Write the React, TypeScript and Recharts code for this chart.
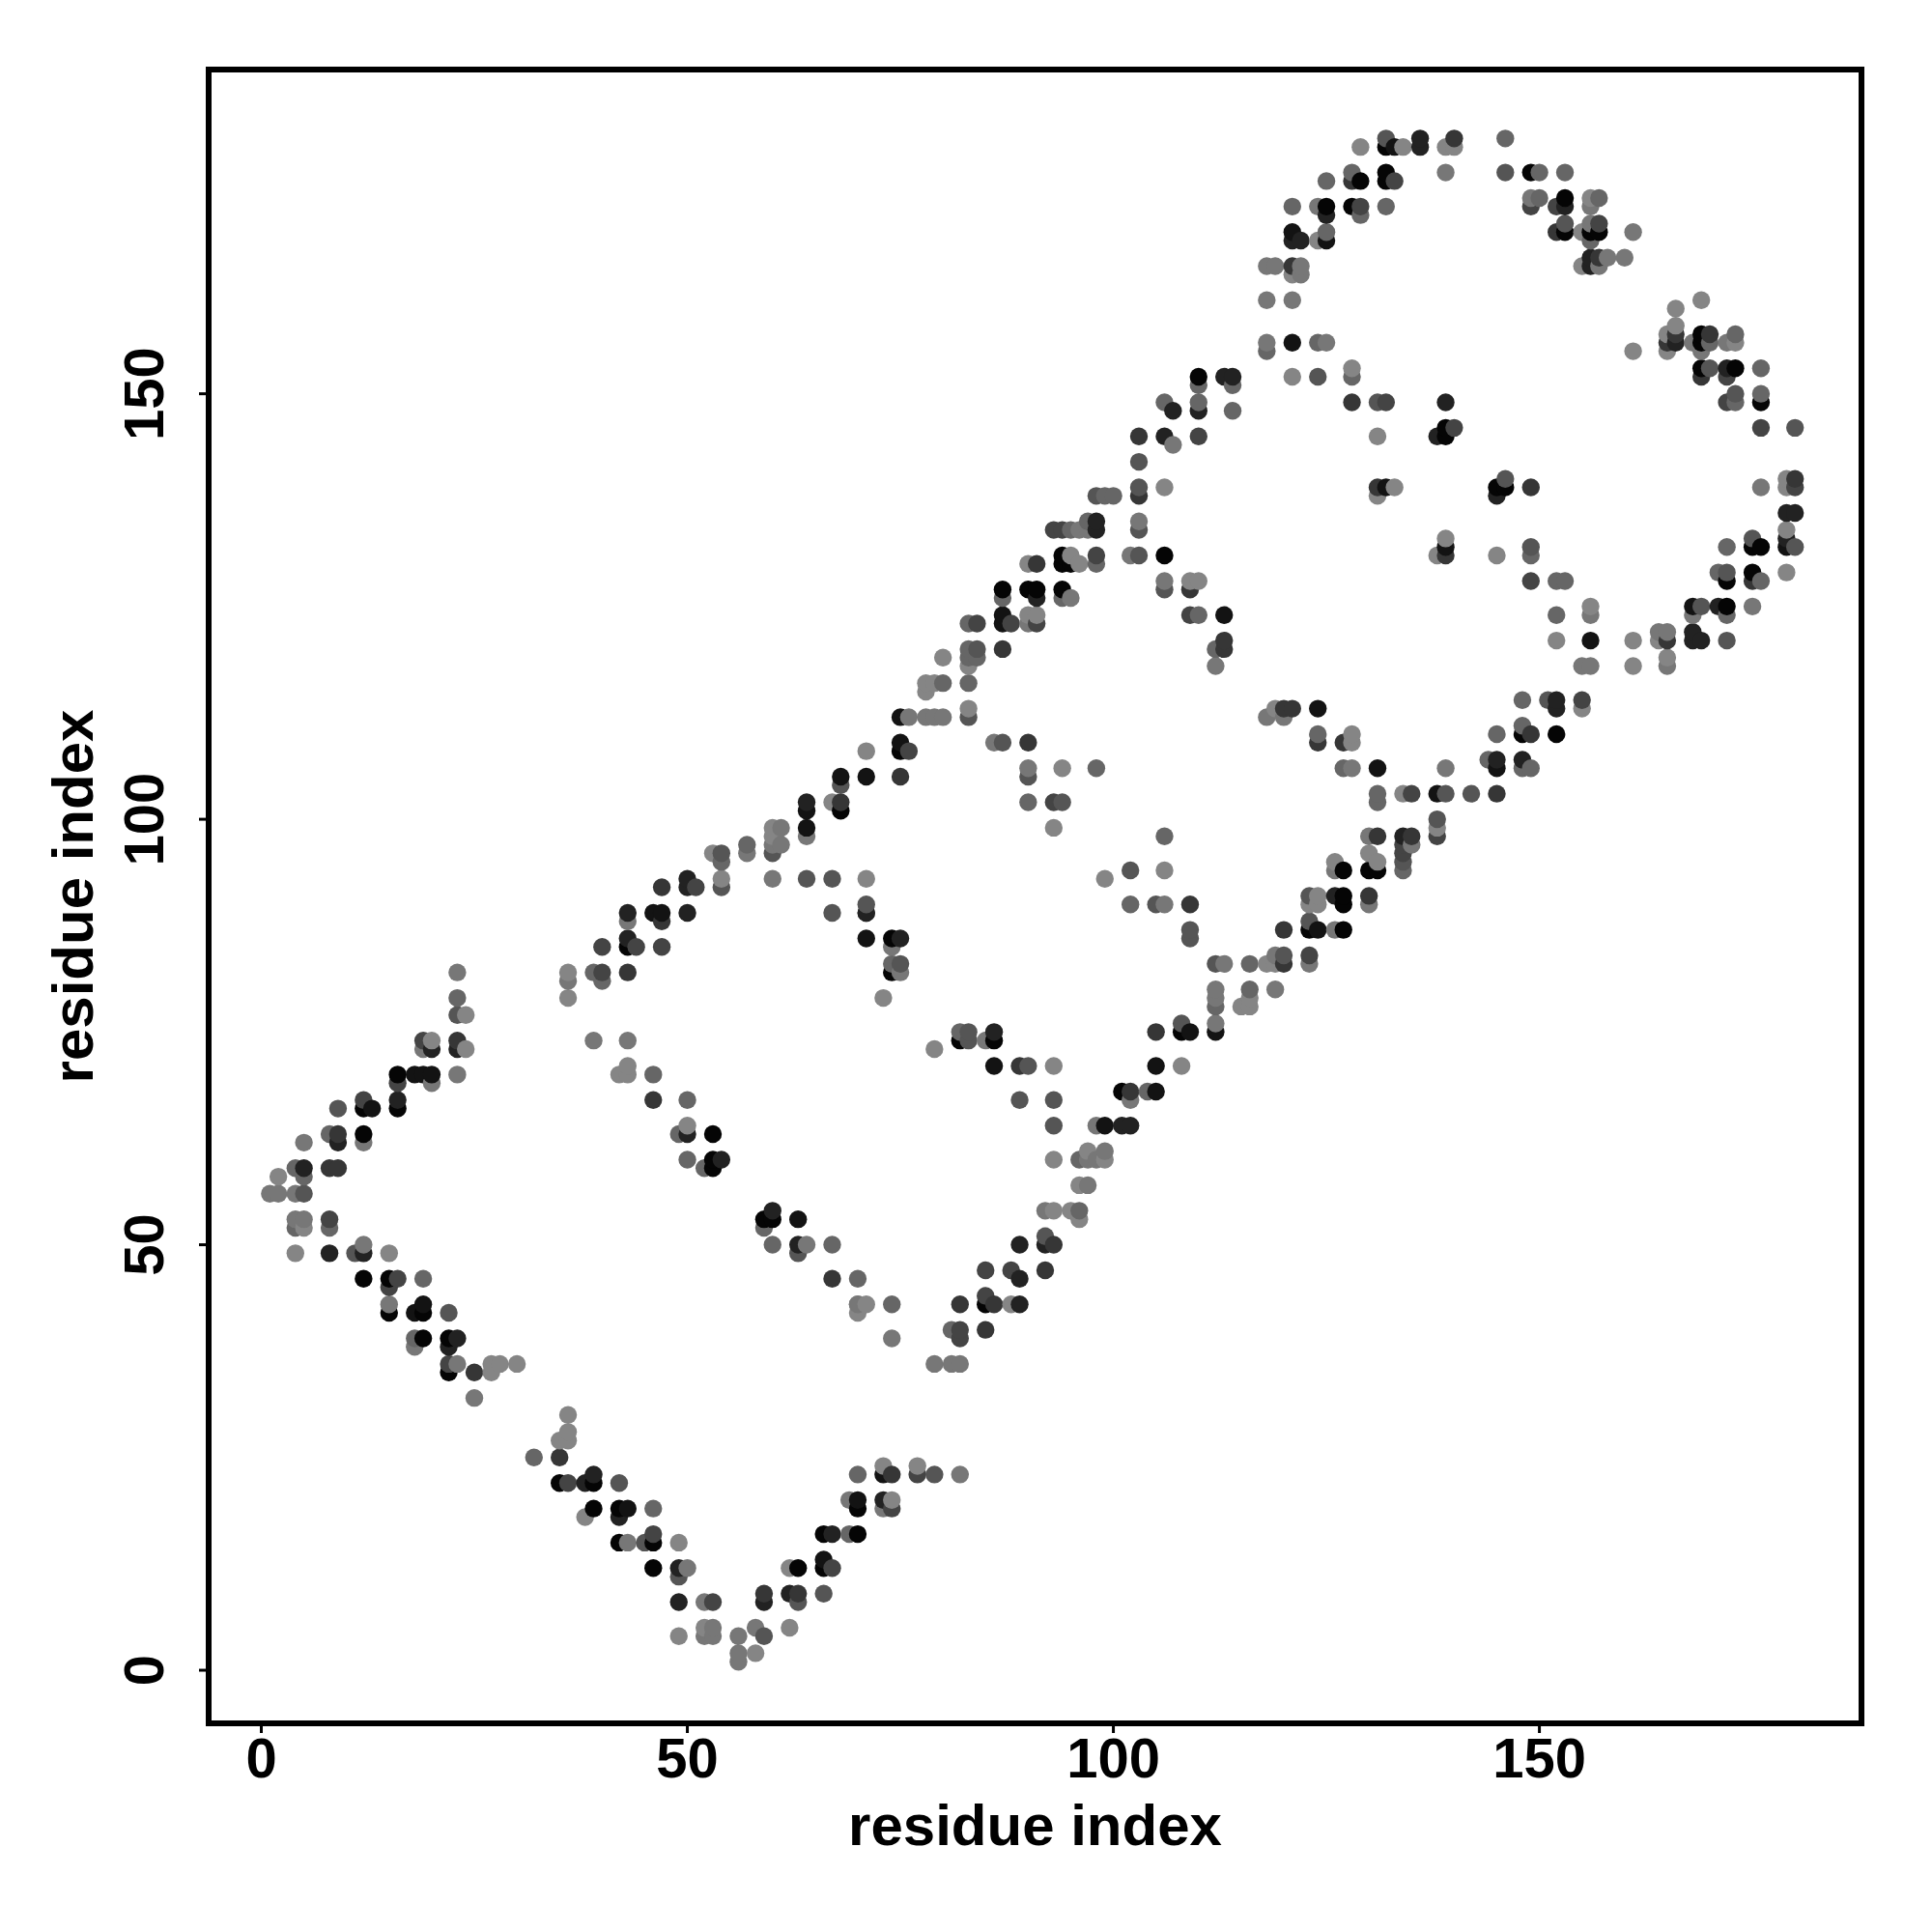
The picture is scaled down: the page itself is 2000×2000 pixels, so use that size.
import { ScatterChart, Scatter, XAxis, YAxis, ReferenceArea } from 'recharts';

const FONT = '"Liberation Sans", Arial, sans-serif';
const xDomain = [-6.18, 187.8];
const yDomain = [-6.24, 188.1];
const tickValues = [0, 50, 100, 150];

// contacts grouped by how dark the dot is, [residue i, residue j]
const contacts100: number[][] = [
  [2,58],[4,49],[5,52],[15,49],[20,74],[24,73],[24,77],[27,35],[27,36],[28,36],[30,36],[35,27],[36,27],[36,28],[36,30],[36,79],[36,82],
  [38,18],[42,70],[43,70],[43,71],[49,4],[49,15],[50,64],[52,5],[53,96],[54,93],[58,2],[60,98],[60,99],[62,5],[62,12],[67,102],[70,42],[70,43],[71,43],
  [71,93],[71,108],[73,24],[73,79],[74,20],[77,24],[78,115],[78,116],[79,73],[79,116],[80,119],[83,113],[83,118],[88,43],[90,124],[90,130],[91,124],
  [93,54],[93,60],[93,71],[93,99],[94,106],[95,54],[95,131],[96,53],[96,57],[96,130],[97,61],[99,60],[99,93],[106,94],[106,139],[108,71],[109,128],[110,128],
  [115,78],[116,78],[116,79],[118,83],[119,83],[119,113],[121,152],[121,164],[123,90],[124,90],[124,91],[124,168],[126,95],[128,109],[128,110],[128,153],
  [129,179],[130,96],[131,95],[131,138],[131,145],[133,139],[134,103],[134,179],[138,99],[138,131],[139,133],[139,179],[140,179],[145,131],[152,121],
  [155,113],[155,165],[155,169],[156,125],[156,173],[161,118],[161,121],[161,155],[164,121],[165,119],[165,155],[165,157],[166,158],[166,160],[169,161],
  [173,156],[179,129],[179,134],[179,139],[179,140],
];
const contacts90: number[][] = [
  [1,56],[2,56],[4,53],[4,56],[5,53],[5,62],[12,50],[12,62],[15,43],[18,38],[19,73],[20,69],[23,36],[23,70],[23,82],[25,32],[36,81],[39,74],[43,15],[43,74],[43,88],
  [50,12],[52,4],[52,8],[53,4],[53,5],[56,1],[56,2],[56,4],[57,96],[58,5],[60,93],[60,97],[61,97],[61,99],[64,50],[64,98],[69,20],[70,43],[73,19],[74,39],[74,85],[75,82],
  [76,112],[78,112],[79,36],[79,112],[80,112],[81,36],[82,23],[82,36],[85,74],[86,109],[90,106],[90,123],[92,54],[95,126],[96,134],[97,57],[97,60],[97,134],[98,60],[98,64],[99,61],
  [102,67],[102,131],[103,135],[106,90],[106,128],[107,144],[112,76],[112,79],[112,80],[112,118],[113,83],[118,112],[118,156],[118,161],[118,165],[119,80],[119,84],[119,165],
  [120,112],[121,161],[122,164],[122,165],[123,83],[124,172],[125,156],[126,87],[126,94],[128,106],[130,90],[130,98],[135,97],[139,106],[139,176],[149,173],
  [155,118],[156,118],[156,124],[156,170],[156,172],[157,165],[158,166],[160,166],[161,169],[164,122],[165,118],[165,122],[168,124],[168,156],[169,155],[172,156],[175,125],[176,139],
];
const contacts80: number[][] = [
  [4,52],[4,59],[5,58],[8,52],[8,63],[18,39],[19,46],[23,79],[32,25],[39,82],[40,81],[46,19],[46,70],[49,63],[50,60],[50,67],[52,59],[54,95],[57,97],[59,52],[60,50],
  [67,50],[69,16],[70,23],[70,46],[74,43],[74,83],[80,116],[81,40],[82,75],[83,116],[83,119],[83,120],[83,123],[84,119],[87,126],[90,102],[94,126],[95,134],[96,54],[96,60],[97,135],
  [98,106],[98,130],[99,138],[100,138],[102,90],[104,68],[106,98],[106,149],[110,124],[110,149],[110,151],[112,78],[112,120],[114,148],[114,151],[116,80],[116,83],
  [118,155],[121,172],[124,110],[124,156],[125,169],[125,175],[127,106],[128,152],[128,176],[129,171],[131,102],[131,103],[132,172],[134,94],[144,107],[145,110],
  [146,180],[148,106],[148,111],[148,114],[149,106],[149,131],[150,173],[150,176],[152,124],[152,128],[153,128],[153,176],[156,168],[157,173],[170,156],[171,129],
  [172,124],[172,132],[173,149],[173,157],[176,128],[176,150],[176,153],
];
const contacts65: number[][] = [
  [5,56],[9,66],[11,49],[22,42],[23,77],[42,22],[45,15],[49,11],[54,92],[54,96],[59,4],[60,96],[63,8],[63,49],[64,93],[66,9],[67,89],[67,93],[68,104],[71,90],[75,83],[79,23],
  [83,74],[83,75],[83,112],[84,120],[87,109],[89,67],[90,71],[90,105],[92,51],[93,64],[93,67],[94,102],[98,138],[102,94],[103,131],[103,134],[103,139],[103,142],[105,90],[106,127],[108,76],
  [109,86],[109,87],[112,83],[120,84],[123,88],[123,91],[124,152],[131,149],[132,180],[134,95],[138,100],[139,103],[142,103],[146,140],[146,176],[149,132],[151,114],[153,170],
  [169,125],[170,153],[172,121],[172,129],[173,150],[175,133],[180,132],[180,146],
];
const contacts50: number[][] = [
  [8,53],[12,67],[15,45],[16,46],[16,69],[19,74],[22,36],[36,22],[40,82],[40,85],[44,85],[46,16],[47,85],[51,92],[53,8],[67,12],[74,19],[76,108],[77,23],[82,39],[82,40],
  [84,123],[85,44],[85,47],[88,47],[88,123],[91,123],[93,102],[93,134],[94,134],[98,131],[109,124],[110,145],[123,84],[129,172],[132,149],[133,175],[134,96],[134,97],[135,103],[138,98],[140,146],
  [149,128],[149,172],[152,172],[155,114],[157,170],[172,149],[172,152],[176,146],[180,139],
];
const contacts40: number[][] = [
  [8,59],[9,59],[9,63],[23,74],[25,35],[35,25],[43,82],[46,67],[47,88],[47,92],[59,9],[63,9],[67,46],[68,102],[71,89],[74,23],[75,105],[82,43],[85,40],[86,43],[87,120],
  [89,71],[90,109],[91,130],[92,47],[93,50],[102,68],[103,138],[103,145],[105,75],[109,90],[109,127],[113,120],[113,121],[120,87],[120,83],[120,113],[121,113],[121,165],[124,109],
  [127,109],[128,149],[128,175],[130,91],[131,98],[131,139],[135,98],[139,131],[140,180],[145,103],[149,110],[149,139],[152,169],[157,166],[165,121],[165,156],[166,157],[169,152],
  [170,157],[175,128],[180,140],
];
const contacts25: number[][] = [
  [5,59],[8,49],[9,62],[12,49],[16,67],[20,73],[22,38],[23,39],[23,73],[38,22],[39,23],[42,18],[43,86],[43,89],[49,8],[49,12],[50,63],[50,89],[50,92],[50,93],[54,60],[59,8],
  [60,54],[62,9],[63,50],[64,102],[67,16],[71,89],[73,20],[75,86],[86,75],[89,43],[89,46],[89,50],[91,126],[92,50],[98,134],[98,135],[101,64],[102,64],
  [106,145],[107,148],[110,148],[113,152],[114,152],[121,168],[122,168],[125,171],[126,91],[134,98],[136,179],[136,180],[138,145],[139,149],[145,107],[145,138],[148,107],
  [152,113],[152,114],[153,172],[156,165],[156,166],[166,156],[168,121],[168,122],[169,121],[171,125],[172,153],[179,133],[179,136],[180,136],
];
const contacts15: number[][] = [
  [13,66],[18,42],[18,70],[19,43],[19,70],[20,70],[43,19],[46,89],[47,89],[63,53],[64,99],[64,101],[66,13],[68,105],[70,20],[71,86],[71,105],[73,23],[75,109],[75,112],
  [86,71],[87,123],[87,124],[99,64],[105,68],[105,71],[109,75],[112,75],[113,124],[121,156],[121,169],[124,87],[124,113],[125,168],[131,106],[132,139],[133,179],
  [138,103],[139,132],[145,106],[156,121],[168,125],[179,132],
];
const contacts5: number[][] = [
  [12,46],[12,63],[12,66],[15,42],[15,46],[16,66],[16,70],[19,39],[19,42],[22,35],[22,39],[35,22],[39,19],[39,22],[42,15],[42,19],[43,85],[46,12],[46,15],[53,59],[53,60],[53,63],
  [59,53],[60,53],[63,12],[66,12],[66,16],[68,101],[70,16],[70,19],[74,82],[74,86],[75,108],[82,74],[85,43],[86,74],[87,127],[90,127],[91,127],[94,127],[94,130],[94,131],[95,130],
  [101,68],[106,131],[108,75],[110,152],[123,87],[125,172],[127,87],[127,90],[127,91],[127,94],[128,172],[129,175],[130,94],[131,94],[132,175],[132,176],[132,179],[139,145],[139,146],
  [145,139],[146,139],[148,110],[149,176],[152,110],[153,169],[153,173],[156,169],[157,169],[169,153],[169,156],[169,157],[172,125],[172,128],[173,153],[175,129],[175,132],[176,132],[176,149],
];

const shadeGroups: [number[][], string][] = [
  [contacts100, '#858585'],
  [contacts90, '#777777'],
  [contacts80, '#666666'],
  [contacts65, '#555555'],
  [contacts50, '#444444'],
  [contacts40, '#363636'],
  [contacts25, '#222222'],
  [contacts15, '#131313'],
  [contacts5, '#050505'],
];

// R plots in index order, so later residues land on top
const points = shadeGroups
  .flatMap(([pairs, fill]) => pairs.map(([x, y]) => ({ x, y, fill })))
  .sort((a, b) => a.x - b.x || a.y - b.y);

const labelStyle = { fontFamily: FONT, fontWeight: 700, fill: '#000' };
const tickStyle = { ...labelStyle, fontSize: 58 };
const titleStyle = { ...labelStyle, fontSize: 60 };

const XTick = ({ x, y, payload }: any) => (
  <text x={x} y={y} dy={44} textAnchor='middle' style={tickStyle}>
    {payload.value}
  </text>
);

const YTick = ({ x, y, payload }: any) => {
  const bx = x - 35;
  return (
    <text x={bx} y={y} textAnchor='middle' transform={`rotate(-90 ${bx} ${y})`} style={tickStyle}>
      {payload.value}
    </text>
  );
};

const Dot = ({ cx, cy, payload }: any) => <circle cx={cx} cy={cy} r={9.2} fill={payload.fill} />;

export default function App() {
  return (
    <div style={{ position: 'absolute', left: 0, top: 0, width: 2000, height: 2000, background: '#fff' }}>
      <ScatterChart width={2000} height={2000} margin={{ top: 72, right: 73, bottom: 0, left: 0 }}>
        <XAxis
          type='number'
          dataKey='x'
          domain={xDomain}
          ticks={tickValues}
          allowDataOverflow
          height={216}
          tickSize={10}
          axisLine={false}
          tickLine={{ stroke: '#000', strokeWidth: 3 }}
          tick={<XTick />}
          interval={0}
          label={{ value: 'residue index', position: 'insideBottom', offset: 90, style: titleStyle }}
        />
        <YAxis
          type='number'
          dataKey='y'
          domain={yDomain}
          ticks={tickValues}
          allowDataOverflow
          width={216}
          tickSize={10}
          axisLine={false}
          tickLine={{ stroke: '#000', strokeWidth: 3 }}
          tick={<YTick />}
          interval={0}
          label={{ value: 'residue index', angle: -90, position: 'insideLeft', offset: 75, style: { ...titleStyle, textAnchor: 'middle' } }}
        />
        <ReferenceArea
          x1={xDomain[0]}
          x2={xDomain[1]}
          y1={yDomain[0]}
          y2={yDomain[1]}
          fill='none'
          stroke='#000'
          strokeWidth={6}
          fillOpacity={0}
          strokeOpacity={1}
          ifOverflow='visible'
        />
        <Scatter data={points} isAnimationActive={false} shape={<Dot />} />
      </ScatterChart>
    </div>
  );
}
